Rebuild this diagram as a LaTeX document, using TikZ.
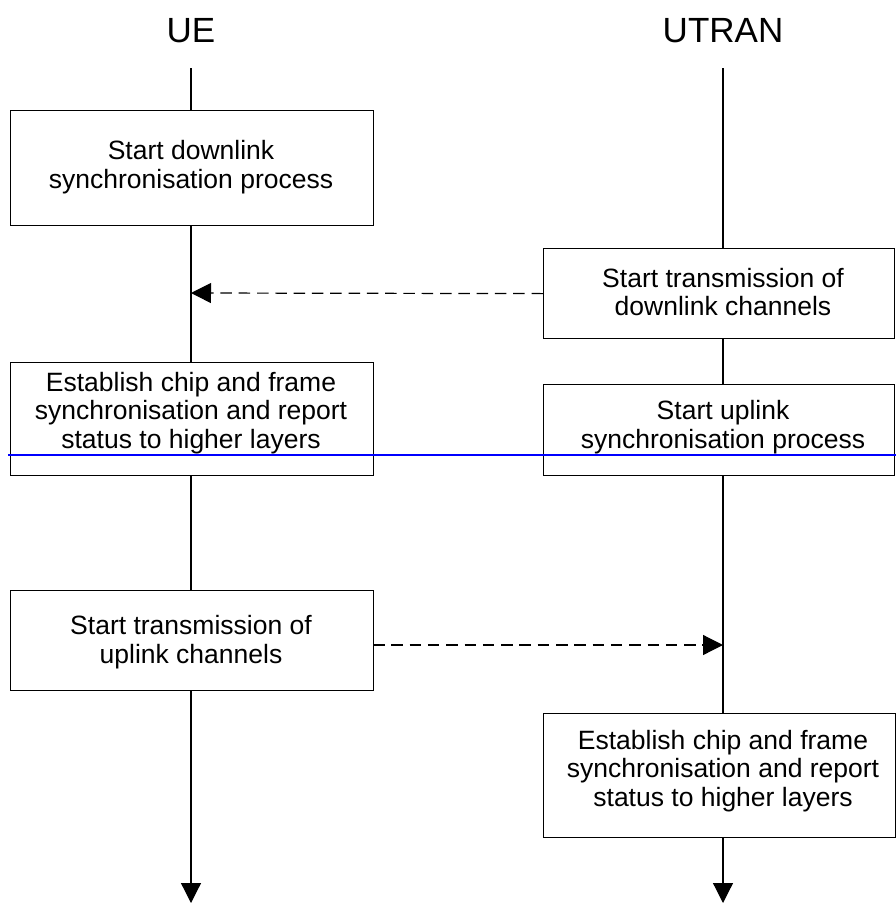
\documentclass[tikz,border=0pt]{standalone}
\usepackage{fontspec}
\setmainfont{Liberation Sans}
\usetikzlibrary{arrows.meta}
\begin{document}
\begin{tikzpicture}[x=1pt,y=-1pt,
  box/.style={draw=black, fill=white, line width=1.2pt, inner sep=0pt, anchor=north west},
  txt/.style={align=center, inner sep=0pt, font=\fontsize{26.5}{28.5}\selectfont},
  head/.style={inner sep=0pt, font=\fontsize{35}{38}\selectfont},
  life/.style={line width=1.2pt, -{Triangle[length=20pt,width=20pt]}},
  msg/.style={line width=1.2pt, dash pattern=on 11.5pt off 6.8pt, -{Triangle[length=20pt,width=20pt]}}
]
\useasboundingbox (0,0) rectangle (896,905);
% headers
\node[head] (ue) at (191,30.5) {UE};
\node[head] (utran) at (723,30.5) {UTRAN};
\coordinate (uetop) at (191,68);
\coordinate (uebot) at (191,903);
\coordinate (uttop) at (723,68);
\coordinate (utbot) at (723,903);
% lifelines
\draw[life] (uetop) -- (uebot);
\draw[life] (uttop) -- (utbot);
% boxes
\node[box, minimum width=363pt, minimum height=115pt] (b1) at (10,110) {};
\node[txt] (b1t) at (191,167) {Start downlink\\synchronisation process};
\node[box, minimum width=351pt, minimum height=90pt] (b2) at (543,248) {};
\node[txt] (b2t) at (723,292) {Start transmission of\\downlink channels};
\node[box, minimum width=363pt, minimum height=113pt] (b3) at (10,362) {};
\node[txt] (b3t) at (191,413) {Establish chip and frame\\synchronisation and report\\status to higher layers};
\node[box, minimum width=351pt, minimum height=91pt] (b4) at (543,384) {};
\node[txt] (b4t) at (723,427) {Start uplink\\synchronisation process};
\node[box, minimum width=363pt, minimum height=100pt] (b5) at (10,590) {};
\node[txt] (b5t) at (191,642) {Start transmission of\\uplink channels};
\node[box, minimum width=352pt, minimum height=124pt] (b6) at (543,713) {};
\node[txt] (b6t) at (723,771) {Establish chip and frame\\synchronisation and report\\status to higher layers};
% messages
\coordinate (m1end) at (191,293);
\draw[msg] (b2.west) -- (m1end);
\coordinate (m2start) at (373,645);
\coordinate (m2end) at (723,645);
\draw[msg] (m2start) -- (m2end);
% blue line
\coordinate (bl1) at (8,455);
\coordinate (bl2) at (896,455);
\draw[line width=1.5pt, color=blue] (bl1) -- (bl2);
\end{tikzpicture}
\end{document}
